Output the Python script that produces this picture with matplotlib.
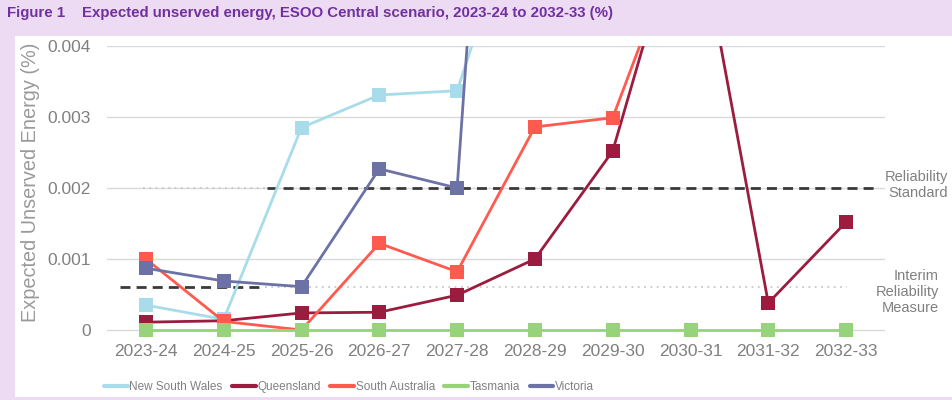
"""
Expected unserved energy by region, ESOO Central scenario, 2023-24 to 2032-33.
"""

import matplotlib as mpl
import matplotlib.pyplot as plt
from matplotlib.lines import Line2D
from matplotlib.patches import Rectangle
from matplotlib.ticker import FuncFormatter

# ── data (% of regional demand) ─────────────────────────────────────────────
years = ["2023-24", "2024-25", "2025-26", "2026-27", "2027-28",
         "2028-29", "2029-30", "2030-31", "2031-32", "2032-33"]

nsw = [0.00035, 0.00015, 0.00285, 0.00331, 0.00337,
       0.0067, 0.0080, 0.0090, 0.0070, 0.0075]
qld = [0.00011, 0.00013, 0.00024, 0.00025, 0.00049,
       0.00100, 0.00252, 0.0063, 0.00038, 0.00152]
sa = [0.00100, 0.00012, 0.0, 0.00122, 0.00082,
      0.00286, 0.00299, 0.0059, 0.0062, 0.0065]
tas = [0.0, 0.0, 0.0, 0.0, 0.0, 0.0, 0.0, 0.0, 0.0, 0.0]
vic = [0.00087, 0.00069, 0.00061, 0.00227, 0.00200,
       0.0176, 0.0150, 0.0140, 0.0120, 0.0110]

series = [
    ("New South Wales", nsw, "#A8DCEA"),
    ("Queensland",      qld, "#9C1C40"),
    ("South Australia", sa,  "#FF5A4F"),
    ("Tasmania",        tas, "#97D37A"),
    ("Victoria",        vic, "#6D72A6"),
]

# reliability thresholds and the category spans they are drawn over
RS_LEVEL = 0.002
RS_DASH = (1.555, 9.40)
RS_DOT = (-0.04, 1.555)
IRM_LEVEL = 0.0006
IRM_DASH = (-0.33, 1.53)
IRM_DOT = (1.53, 9.01)

# ── style ───────────────────────────────────────────────────────────────────
PURPLE_BG = "#EDDBF4"
TITLE_COL = "#7030A0"
GREY_TXT = "#808080"

mpl.rcParams.update({
    "font.family": ["Liberation Sans", "DejaVu Sans"],
    "font.size": 12.5,
})

fig = plt.figure(figsize=(9.53, 4.0), dpi=100, facecolor=PURPLE_BG)

# white chart panel below the title strip
fig.patches.append(Rectangle((15 / 953, 3 / 400), 937 / 953, 361 / 400,
                             transform=fig.transFigure, facecolor="white",
                             edgecolor="none", zorder=-10))

fig.text(7 / 953, 1 - 13 / 400, "Figure 1", color=TITLE_COL,
         fontsize=10.8, fontweight="bold", va="center")
fig.text(82 / 953, 1 - 13 / 400,
         "Expected unserved energy, ESOO Central scenario, 2023-24 to 2032-33 (%)",
         color=TITLE_COL, fontsize=10.8, fontweight="bold", va="center")

ax = fig.add_axes([107 / 953, 61.5 / 400, 778 / 953, 292.5 / 400])
ax.set_facecolor("none")
x = list(range(len(years)))

# threshold lines
ax.plot(RS_DOT, [RS_LEVEL] * 2, color="#C8C8C8", lw=1.3, ls=(0, (1, 2.5)), zorder=2)
ax.plot(IRM_DOT, [IRM_LEVEL] * 2, color="#C8C8C8", lw=1.3, ls=(0, (1, 2.5)), zorder=2)
ax.plot(RS_DASH, [RS_LEVEL] * 2, color="#3A3A3A", lw=2.0, ls=(0, (3.6, 2.2)), zorder=2)
ax.plot(IRM_DASH, [IRM_LEVEL] * 2, color="#3A3A3A", lw=2.0, ls=(0, (3.6, 2.2)), zorder=2)

for i, (name, vals, col) in enumerate(series):
    ax.plot(x, vals, color=col, lw=2.0, marker="s", markersize=10,
            markeredgewidth=0, zorder=3 + i)

ax.set_xlim(-0.5, 9.5)
ax.set_ylim(-0.00012, 0.004)
ax.set_xticks(x)
ax.set_xticklabels(years)
ax.set_yticks([0, 0.001, 0.002, 0.003, 0.004])
ax.yaxis.set_major_formatter(FuncFormatter(lambda v, _: f"{v:g}"))
ax.tick_params(axis="both", length=0, colors=GREY_TXT, labelsize=12.5)
ax.tick_params(axis="y", pad=11.5)
ax.tick_params(axis="x", pad=4)
ax.grid(axis="y", color="#DADADA", lw=1.0, zorder=1)
ax.grid(axis="x", visible=False)
for sp in ax.spines.values():
    sp.set_visible(False)

fig.text(31 / 953, 1 - 182 / 400, "Expected Unserved Energy (%)", rotation=90,
         ha="center", va="center", color="#9A9A9A", fontsize=14.3)

fig.text(948 / 953, 1 - 185 / 400, "Reliability\nStandard", ha="right",
         va="center", color=GREY_TXT, fontsize=10.5, linespacing=1.2)
fig.text(939 / 953, 1 - 292 / 400, "Interim\nReliability\nMeasure", ha="right",
         va="center", color=GREY_TXT, fontsize=10.5, linespacing=1.2)

handles = [Line2D([], [], color=col, lw=3, solid_capstyle="round")
           for _, _, col in series]
fig.legend(handles, [s[0] for s in series], loc="center left",
           bbox_to_anchor=(104 / 953, 1 - 387 / 400), ncol=5, frameon=False,
           handlelength=2.0, handletextpad=0.15, columnspacing=0.8,
           borderpad=0, borderaxespad=0, fontsize=8.5,
           labelcolor=GREY_TXT)

fig.savefig("out.png", dpi=100, facecolor=PURPLE_BG)
